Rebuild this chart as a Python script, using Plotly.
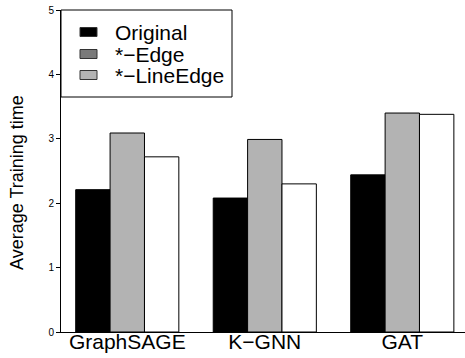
import plotly.graph_objects as go

categories = ["GraphSAGE", "K\u2212GNN", "GAT"]
original = [2.21, 2.08, 2.44]
edge = [3.09, 2.99, 3.40]
line_edge = [2.72, 2.30, 3.38]
series_names = ["Original", "*\u2212Edge", "*\u2212LineEdge"]
bar_colors = ["#000000", "#b3b3b3", "#ffffff"]
legend_colors = ["#000000", "#7a7a7a", "#b3b3b3"]
y_ticks = [0, 1, 2, 3, 4, 5]

W, H = 465, 358
L, R, T, B = 61, 0, 10, 26
PW, PH = W - L - R, H - T - B


def px(x):
    return (x - L) / PW


def py(y):
    return (H - B - y) / PH


fig = go.Figure()
for name, vals, col in zip(series_names, [original, edge, line_edge], bar_colors):
    fig.add_trace(go.Bar(x=categories, y=vals, name=name,
                         marker=dict(color=col, line=dict(color="black", width=1)),
                         showlegend=False))

shapes = [dict(type="rect", xref="paper", yref="paper", x0=px(61), x1=px(232), y0=py(97), y1=py(10),
               line=dict(color="black", width=1), fillcolor="white", layer="above")]
annotations = []
row_y = [32, 54, 75]
for name, col, yc in zip(series_names, legend_colors, row_y):
    shapes.append(dict(type="rect", xref="paper", yref="paper", x0=px(80), x1=px(97),
                       y0=py(yc + 4.5), y1=py(yc - 4.5), line=dict(color="#333333", width=1),
                       fillcolor=col, layer="above"))
    annotations.append(dict(xref="paper", yref="paper", x=px(113), y=py(yc), text=name,
                            showarrow=False, xanchor="left", yanchor="middle",
                            font=dict(size=21, color="black")))
annotations.append(dict(xref="paper", yref="paper", x=px(17), y=py(183), text="Average Training time",
                        textangle=-90, showarrow=False, xanchor="center", yanchor="middle",
                        font=dict(size=18, color="black")))

fig.update_layout(
    width=W, height=H,
    margin=dict(l=L, r=R, t=T, b=B),
    plot_bgcolor="white", paper_bgcolor="white",
    barmode="group", bargap=0.25, bargroupgap=0,
    font=dict(family="Liberation Sans, Arial, sans-serif", color="black"),
    showlegend=False,
    xaxis=dict(range=[-0.482, 2.456], showline=True, linecolor="black", linewidth=1,
               ticks="", tickfont=dict(size=21), showgrid=False, ticklabelstandoff=-9),
    yaxis=dict(range=[0, 5], tickvals=y_ticks, showline=True, linecolor="black", linewidth=1,
               ticks="outside", ticklen=4, tickcolor="black", tickfont=dict(size=10),
               showgrid=False, zeroline=False, ticklabeloverflow="allow"),
    shapes=shapes,
    annotations=annotations,
)
fig.write_html("out.html", config={"displayModeBar": False},
               post_script="document.body.style.margin='0px';")
